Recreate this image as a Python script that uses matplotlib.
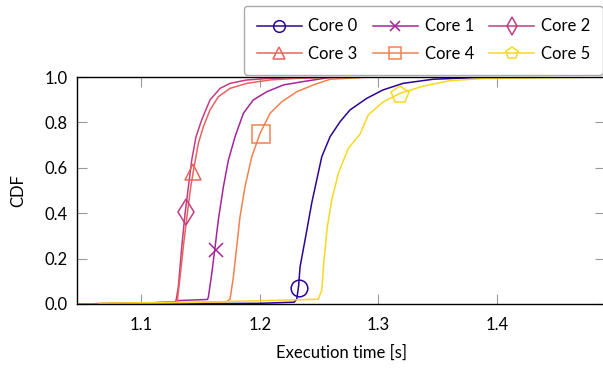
import numpy as np
import matplotlib
matplotlib.use("Agg")
import matplotlib.pyplot as plt
from matplotlib.lines import Line2D

plt.rcParams['font.family'] = ['Lato', 'DejaVu Sans']

# --- Daten ---
LABELS = ["Core 0", "Core 1", "Core 2", "Core 3", "Core 4", "Core 5"]
COLORS = ["#2c0594", "#a5259c", "#c33d80", "#e8645e", "#f3814f", "#f9d821"]
MARKERS = ["o", "x", "d", "^", "s", "p"]

x0 = [1.09, 1.20, 1.229, 1.2312, 1.2328, 1.234, 1.2382, 1.2438, 1.2523, 1.2593, 1.2677,
      1.2761, 1.2902, 1.3039, 1.3208, 1.346, 1.3747, 1.4025, 1.44]
y0 = [0.0, 0.003, 0.008, 0.021, 0.08, 0.164, 0.282, 0.444, 0.649, 0.737, 0.803,
      0.855, 0.906, 0.943, 0.972, 0.99, 0.996, 0.999, 1.0]

x1 = [1.046, 1.10, 1.128, 1.1306, 1.156, 1.1567, 1.1596, 1.1624, 1.1651, 1.1694, 1.1736,
      1.1792, 1.1862, 1.1946, 1.2059, 1.2199, 1.2368, 1.2578, 1.27]
y1 = [0.0, 0.004, 0.008, 0.015, 0.02, 0.03, 0.135, 0.252, 0.37, 0.517, 0.634,
      0.737, 0.84, 0.899, 0.935, 0.965, 0.98, 0.997, 1.0]

x2 = [1.046, 1.10, 1.128, 1.1295, 1.1314, 1.1343, 1.1371, 1.1399, 1.1427, 1.1463, 1.1511,
      1.1581, 1.1666, 1.175, 1.1891, 1.2087, 1.2368, 1.26]
y2 = [0.0, 0.004, 0.008, 0.015, 0.076, 0.252, 0.4, 0.517, 0.634, 0.737, 0.811,
      0.899, 0.95, 0.972, 0.987, 0.994, 0.997, 1.0]

x3 = [1.046, 1.10, 1.129, 1.1306, 1.1329, 1.1356, 1.139, 1.1419, 1.1447, 1.1483, 1.1525,
      1.1581, 1.1651, 1.175, 1.1891, 1.2087, 1.2312, 1.2593, 1.28]
y3 = [0.0, 0.004, 0.008, 0.015, 0.12, 0.252, 0.4, 0.517, 0.605, 0.708, 0.781,
      0.855, 0.913, 0.95, 0.972, 0.987, 0.994, 0.999, 1.0]

x4 = [1.046, 1.12, 1.172, 1.175, 1.1778, 1.1806, 1.1834, 1.1876, 1.1933, 1.2003, 1.2087,
      1.2186, 1.2312, 1.2452, 1.2593, 1.2902, 1.30]
y4 = [0.0, 0.004, 0.01, 0.021, 0.12, 0.252, 0.385, 0.517, 0.649, 0.752, 0.84,
      0.891, 0.935, 0.965, 0.99, 0.999, 1.0]

x5 = [1.0646, 1.15, 1.2494, 1.2523, 1.2542, 1.257, 1.2607, 1.2663, 1.2747, 1.2846, 1.2915,
      1.3042, 1.3183, 1.3379, 1.3604, 1.3882, 1.4446, 1.489]
y5 = [0.003, 0.008, 0.021, 0.062, 0.194, 0.341, 0.458, 0.576, 0.686, 0.749, 0.833,
      0.891, 0.928, 0.96, 0.984, 0.993, 0.997, 0.999]

# Position der einzelnen Marker je Kurve
MARK_X = [1.2334, 1.1629, 1.1379, 1.1441, 1.2011, 1.3183]
MARK_Y = [0.069, 0.238, 0.407, 0.583, 0.749, 0.921]

XS = [x0, x1, x2, x3, x4, x5]
YS = [y0, y1, y2, y3, y4, y5]

MSIZE = [12, 9.5, 13, 12, 13, 13]
FS = 12

fig = plt.figure(figsize=(6.03, 3.68), dpi=100)
ax = fig.add_axes([77 / 603, 1 - 304 / 368, 528 / 603, 227 / 368])

handles = []
for i in range(len(LABELS)):
    ax.plot(XS[i], YS[i], color=COLORS[i], lw=1.1, zorder=2)
    ax.plot([MARK_X[i]], [MARK_Y[i]], linestyle="none", marker=MARKERS[i],
            markersize=MSIZE[i], mfc="none", mec=COLORS[i], mew=1.1, zorder=3)
    handles.append(Line2D([], [], color=COLORS[i], lw=1.1, marker=MARKERS[i],
                          markersize=MSIZE[i] * 0.7, mfc="none", mec=COLORS[i], mew=1.1))

ax.set_xlim(1.046, 1.491)
ax.set_ylim(0, 1)
ax.set_xticks([1.1, 1.2, 1.3, 1.4])
ax.set_yticks([0.0, 0.2, 0.4, 0.6, 0.8, 1.0])
ax.set_yticklabels(["0.0", "0.2", "0.4", "0.6", "0.8", "1.0"])
ax.tick_params(direction="in", length=7.5, width=0.8, color="#9a9a9a",
               top=True, right=True, labelsize=FS)
ax.tick_params(axis="x", pad=9)
ax.tick_params(axis="y", pad=7)
for s in ax.spines.values():
    s.set_linewidth(1.0)

ax.set_xlabel("Execution time [s]", fontsize=FS, labelpad=9)
ax.set_ylabel("CDF", fontsize=FS, labelpad=13)

# zeilenweise Reihenfolge in der Legende (3 Spalten)
order = [0, 3, 1, 4, 2, 5]
leg = fig.legend([handles[k] for k in order], [LABELS[k] for k in order],
                 ncol=3, loc="upper left",
                 bbox_to_anchor=(244 / 603, 1 - 6 / 368), fontsize=FS,
                 handlelength=2.7, handletextpad=0.42, columnspacing=0.9,
                 labelspacing=0.7, borderpad=0.75, borderaxespad=0,
                 fancybox=True, framealpha=1)
leg.get_frame().set_edgecolor("#aaaaaa")
leg.get_frame().set_linewidth(1.0)

fig.savefig("out.png", dpi=100)
